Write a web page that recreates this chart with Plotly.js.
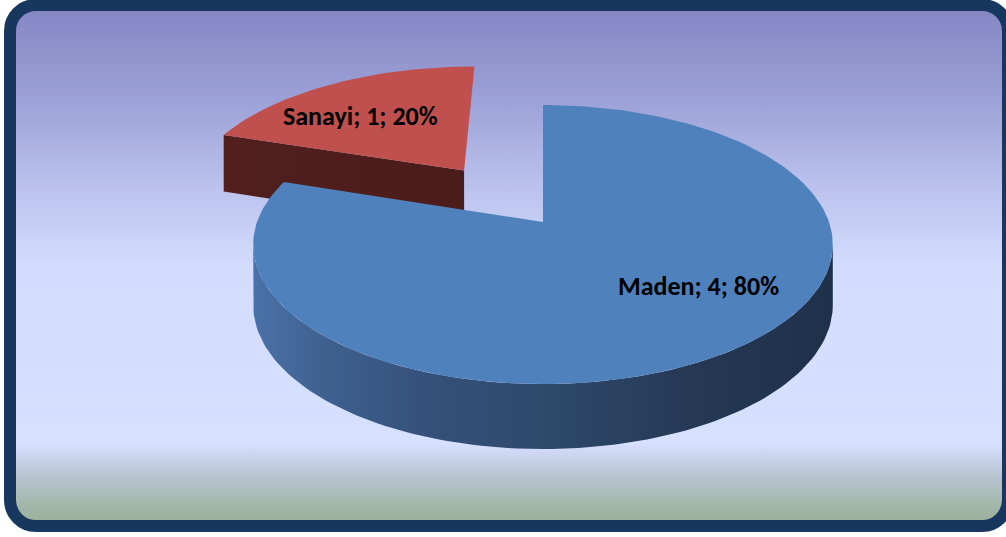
<!DOCTYPE html>
<html>
<head>
<meta charset="utf-8">
<script src="https://cdn.plot.ly/plotly-3.0.1.min.js"></script>
<style>
  html, body { margin: 0; padding: 0; width: 1006px; height: 537px; overflow: hidden; background: #ffffff; }
  #frame {
    position: absolute; left: 4px; top: -1px; width: 986px; height: 509px;
    border: 12px solid #17375E; border-radius: 32px;
    background: linear-gradient(to bottom,
      #8686C4 0%, #9DA2D8 18%, #B9BFEB 33%, #D3DCFD 50%, #D6E0FF 85%,
      #CAD4EE 87.5%, #B4C3CC 92%, #A3B7A9 97%, #9CB19E 100%);
  }
  #chart { position: absolute; left: 0; top: 0; width: 1006px; height: 537px; }
</style>
</head>
<body>
<div id="frame"></div>
<div id="chart"></div>
<script>
// ---- data ----
const labels = ['Maden', 'Sanayi'];
const values = [4, 1];
const pulls = [0, 0.5];

// ---- style ----
const topColors = ['#4F81BD', '#C0504D'];
const sideScales = [
  [[0, '#4A72A8'], [0.12, '#3F6190'], [0.3, '#35507A'], [0.5, '#2F4A6B'], [0.75, '#253955'], [1, '#1F3049']],
  [[0, '#521F1D'], [1, '#4A1C1A']]
];
const labelR = [0.67, 0.65];
const labelAngleShift = [13, 6];

// ---- 3D projection (pixel space) ----
const cx = 543, cy = 222, A = 135.9, B = 286, k = 0.1613, H0 = 59.8, kd = 0.08;
function proj(X, Y, z) {
  const w = 1 + k * Y;
  return [cx + B * X / w, cy - A * Y / w + z * H0 / (1 + kd * Y)];
}
const rad = d => d * Math.PI / 180;

const total = values.reduce((a, b) => a + b, 0);
const slices = [];
let cum = 0;
values.forEach((v, i) => {
  const a0 = 90 - cum / total * 360;
  const a1 = a0 - v / total * 360;
  cum += v;
  const mid = (a0 + a1) / 2;
  const ox = pulls[i] * Math.cos(rad(mid)), oy = pulls[i] * Math.sin(rad(mid));
  slices.push({ i, a0, a1, mid, ox, oy });
});

function arcPts(s, from, to, z) {
  const n = Math.max(2, Math.ceil(Math.abs(to - from) / 1.5));
  const pts = [];
  for (let j = 0; j <= n; j++) {
    const t = rad(from + (to - from) * j / n);
    pts.push(proj(s.ox + Math.cos(t), s.oy + Math.sin(t), z));
  }
  return pts;
}

const traces = [];
function poly(pts, opts) {
  const xs = pts.map(p => p[0]); const ys = pts.map(p => p[1]);
  xs.push(xs[0]); ys.push(ys[0]);
  traces.push(Object.assign({
    type: 'scatter', mode: 'lines', x: xs, y: ys, fill: 'toself',
    line: { width: 0 }, hoverinfo: 'skip', showlegend: false
  }, opts));
}

// far slices first
const order = slices.slice().sort((p, q) => q.oy - p.oy);
const silA = -Math.asin(k) * 180 / Math.PI;      // right silhouette (deg)
const silB = -180 - silA;                         // left silhouette (deg)

order.forEach(s => {
  const sideGrad = { type: 'horizontal', colorscale: sideScales[s.i] };
  // radial faces
  [[s.a0, s.a0 + 90], [s.a1, s.a1 - 90]].forEach(([ang, nrm]) => {
    if (Math.sin(rad(nrm)) < -0.05) {
      const c0 = proj(s.ox, s.oy, 0), c1 = proj(s.ox, s.oy, 1);
      const e0 = proj(s.ox + Math.cos(rad(ang)), s.oy + Math.sin(rad(ang)), 0);
      const e1 = proj(s.ox + Math.cos(rad(ang)), s.oy + Math.sin(rad(ang)), 1);
      poly([c0, e0, e1, c1], { fillcolor: sideScales[s.i][0][1], fillgradient: sideGrad });
    }
  });
  // outer visible side
  for (const off of [0, -360, 360]) {
    const lo = Math.max(s.a1, silB + off), hi = Math.min(s.a0, silA + off);
    if (hi > lo) {
      const top = arcPts(s, hi, lo, 0);
      const bot = arcPts(s, lo, hi, 1);
      poly(top.concat(bot), { fillcolor: sideScales[s.i][0][1], fillgradient: sideGrad });
    }
  }
  // top face
  const pts = [proj(s.ox, s.oy, 0)].concat(arcPts(s, s.a0, s.a1, 0));
  poly(pts, { fillcolor: topColors[s.i] });
});

// labels
const annotations = slices.map(s => {
  const t = rad(s.mid + labelAngleShift[s.i]);
  const p = proj(s.ox + labelR[s.i] * Math.cos(t), s.oy + labelR[s.i] * Math.sin(t), 0);
  const pct = Math.round(values[s.i] / total * 100);
  return {
    x: p[0], y: p[1], xref: 'x', yref: 'y', showarrow: false,
    text: '<b>' + labels[s.i] + '; ' + values[s.i] + '; ' + pct + '%</b>',
    font: { family: 'Carlito, Calibri, Lato, sans-serif', size: 26, color: '#000000' }
  };
});

Plotly.newPlot('chart', traces, {
  width: 1006, height: 537,
  margin: { l: 0, r: 0, t: 0, b: 0 },
  paper_bgcolor: 'rgba(0,0,0,0)', plot_bgcolor: 'rgba(0,0,0,0)',
  xaxis: { range: [0, 1006], visible: false, fixedrange: true },
  yaxis: { range: [537, 0], visible: false, fixedrange: true },
  annotations: annotations,
  showlegend: false
}, { staticPlot: true });
</script>
</body>
</html>
